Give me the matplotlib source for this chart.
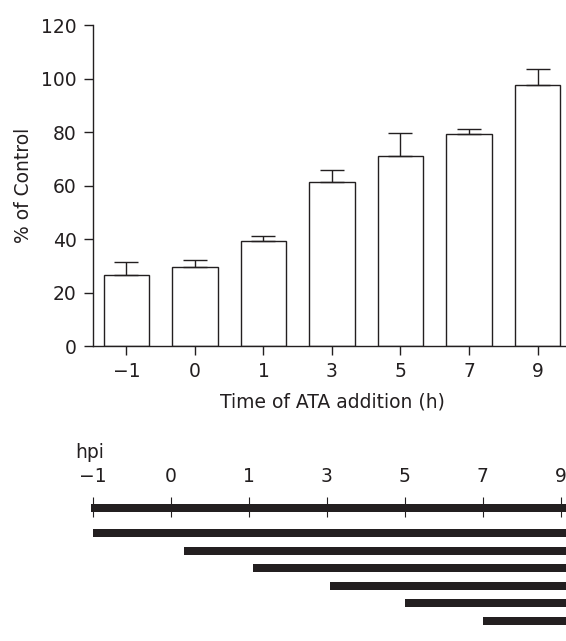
import matplotlib
matplotlib.use("Agg")
import matplotlib.pyplot as plt

plt.rcParams['font.family'] = ['DejaVu Sans']

# top panel: % of control by time of ATA addition
times = ['\u22121', '0', '1', '3', '5', '7', '9']
pct_control = [26.7, 29.5, 39.3, 61.2, 71.2, 79.4, 97.5]
pct_err = [4.6, 2.6, 2.0, 4.6, 8.6, 1.8, 6.3]

# bottom panel: treatment windows, start position on the hpi scale (tick index)
hpi_labels = ['\u22121', '0', '1', '3', '5', '7', '9']
window_start = [0.0, 1.17, 2.05, 3.04, 4.01, 5.0]
window_end = 7.0

W, H = 566, 641
dark = '#231f20'
fs = 13.5

fig = plt.figure(figsize=(W / 100, H / 100), dpi=100)

# ---- bar chart ----
ax = fig.add_axes([92.5 / W, 1 - 346 / H, (W - 92.5) / W, (346 - 25.3) / H])
x = range(len(times))
ax.bar(x, pct_control, width=0.67, color='white', edgecolor=dark, linewidth=1.0)
ax.errorbar(x, pct_control, yerr=[[0] * len(pct_err), pct_err], fmt='none',
            ecolor=dark, elinewidth=1.0, capsize=8.3, capthick=1.0)
ax.set_xlim(-0.496, 6.416)
ax.set_ylim(0, 120)
ax.set_yticks(range(0, 121, 20))
ax.set_xticks(list(x))
ax.set_xticklabels(times)
for s in ['top', 'right']:
    ax.spines[s].set_visible(False)
for s in ['left', 'bottom']:
    ax.spines[s].set_color(dark)
    ax.spines[s].set_linewidth(1.0)
ax.tick_params(direction='out', length=6.5, width=1.0, color=dark,
               labelsize=fs, labelcolor=dark, pad=5)
ax.set_ylabel('% of Control', fontsize=fs, color=dark)
ax.set_xlabel('Time of ATA addition (h)', fontsize=fs, color=dark)
ax.yaxis.set_label_coords(-0.126, 0.5)
ax.xaxis.set_label_coords(0.507, -0.145)

# ---- timeline ----
tl = fig.add_axes([0, 0, 1, 221 / H])
tl.set_xlim(-92.7 / 78, (W - 92.7) / 78)
tl.set_ylim(641, 420)
tl.axis('off')
tl.barh(508, window_end + 0.02, left=-0.02, height=8, color=dark)
tl.vlines(range(len(hpi_labels)), 497, 517, color=dark, linewidth=0.8)
for i, lab in enumerate(hpi_labels):
    tl.text(i, 482, lab, ha='center', va='baseline', fontsize=fs, color=dark)
tl.text(-0.227, 458, 'hpi', ha='left', va='baseline', fontsize=fs, color=dark)
rows = [533 + 17.6 * k for k in range(len(window_start))]
tl.barh(rows, [window_end - s for s in window_start], left=window_start,
        height=8, color=dark)

fig.savefig('out.png', dpi=100)
